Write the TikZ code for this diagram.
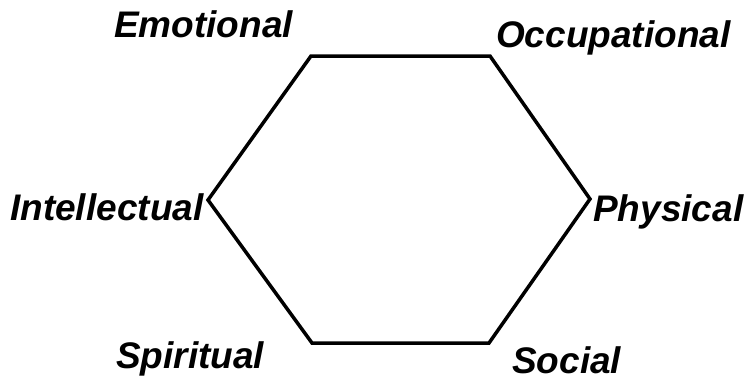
\documentclass[tikz,border=0pt]{standalone}
\usepackage{fontspec}
\setmainfont{Liberation Sans}
\usepackage{tikz}
\usetikzlibrary{positioning}

\begin{document}
\begin{tikzpicture}[
    x=1pt, y=-1pt,
    edge/.style={draw=black, line width=3.5pt, line join=miter},
    dimension/.style={
        anchor=base west,
        inner sep=0pt,
        font=\fontsize{37}{42}\selectfont\bfseries\itshape
    }
]
\useasboundingbox (0,0) rectangle (744,381);

% Hexagon corners
\coordinate (topleft) at (311,56);
\coordinate (topright) at (490,56);
\coordinate (right) at (590,199);
\coordinate (botright) at (489,343);
\coordinate (botleft) at (312,343);
\coordinate (left) at (208,200);

% Hexagon
\draw[edge] (topleft) -- (topright) -- (right) -- (botright) -- (botleft) -- (left) -- cycle;

% Dimensions
\node[dimension] (emotional) at (114,37) {Emotional};
\node[dimension] (occupational) at (496,47) {Occupational};
\node[dimension] (intellectual) at (10,220) {Intellectual};
\node[dimension] (physical) at (593,221) {Physical};
\node[dimension] (spiritual) at (116,368) {Spiritual};
\node[dimension] (social) at (512,373) {Social};

\end{tikzpicture}
\end{document}
